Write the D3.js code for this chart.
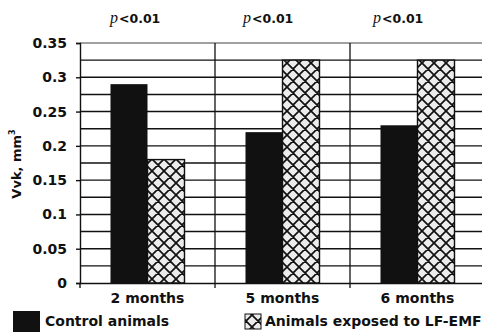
<!DOCTYPE html>
<html>
<head>
<meta charset="utf-8">
<script src="https://cdn.jsdelivr.net/npm/d3@7"></script>
<style>
  html, body { margin: 0; padding: 0; background: #fff; }
  svg { display: block; }
  text { font-family: "DejaVu Sans", sans-serif; font-weight: bold; fill: #111; }
</style>
</head>
<body>
<svg id="chart" width="482" height="332"></svg>
<script>
const categories = ["2 months", "5 months", "6 months"];
const controlValues = [0.29, 0.22, 0.23];
const exposedValues = [0.18, 0.325, 0.325];
const pLabels = ["<0.01", "<0.01", "<0.01"];
const yTickValues = [0, 0.05, 0.1, 0.15, 0.2, 0.25, 0.3, 0.35];
const yTickLabels = ["0", "0.05", "0.1", "0.15", "0.2", "0.25", "0.3", "0.35"];
const gridValues = [0.025, 0.05, 0.075, 0.1, 0.125, 0.15, 0.175, 0.2, 0.225, 0.25, 0.275, 0.3, 0.325];
const seriesNames = ["Control animals", "Animals exposed to LF-EMF"];
const seriesKeys = ["control", "exposed"];

const svg = d3.select("#chart");
const mLeft = 80, mRight = 485, mTop = 43, mBottom = 283;

const x = d3.scaleBand().domain(categories).range([mLeft, mRight]).padding(0);
const xi = d3.scaleBand().domain(seriesKeys).range([0, x.bandwidth()])
  .paddingInner(0).paddingOuter(0.824);
const y = d3.scaleLinear().domain([0, 0.35]).range([mBottom, mTop]);

// hatch pattern
const defs = svg.append("defs");
const pat = defs.append("pattern").attr("id", "hatch").attr("patternUnits", "userSpaceOnUse")
  .attr("width", 12).attr("height", 12).attr("x", 0).attr("y", 3);
pat.append("rect").attr("width", 12).attr("height", 12).attr("fill", "#ececec");
pat.append("path").attr("d", "M-3,-3 L15,15 M-3,9 L3,15 M9,-3 L15,3 M15,-3 L-3,15 M3,-3 L-3,3 M15,9 L9,15")
  .attr("stroke", "#111").attr("stroke-width", 1.7);

// horizontal grid lines
svg.append("g").selectAll("line").data(gridValues).join("line")
  .attr("x1", mLeft).attr("x2", mRight)
  .attr("y1", d => y(d)).attr("y2", d => y(d))
  .attr("stroke", "#111").attr("stroke-width", 1.4);
// top border
svg.append("line").attr("x1", mLeft).attr("x2", mRight).attr("y1", y(0.35)).attr("y2", y(0.35))
  .attr("stroke", "#444").attr("stroke-width", 1.2);

// vertical category separators
svg.append("g").selectAll("line").data(categories.slice(1)).join("line")
  .attr("x1", d => x(d)).attr("x2", d => x(d))
  .attr("y1", mTop).attr("y2", mBottom + 5)
  .attr("stroke", "#111").attr("stroke-width", 1.3);

// y axis
const yAxis = d3.axisLeft(y).tickValues(yTickValues).tickSize(4).tickPadding(9)
  .tickFormat((d, i) => yTickLabels[i]);
const ya = svg.append("g").attr("transform", `translate(${mLeft},0)`).call(yAxis);
ya.select(".domain").attr("stroke", "#111").attr("stroke-width", 1.4);
ya.selectAll(".tick line").attr("stroke", "#111").attr("stroke-width", 1.4);
ya.selectAll(".tick text").attr("font-size", 14).attr("font-family", "DejaVu Sans")
  .attr("font-weight", "bold").attr("fill", "#111");

// bars
const groups = svg.append("g").selectAll("g").data(categories).join("g")
  .attr("transform", d => `translate(${x(d)},0)`);
groups.append("rect")
  .attr("x", xi("control")).attr("width", xi.bandwidth())
  .attr("y", (d, i) => y(controlValues[i]))
  .attr("height", (d, i) => y(0) - y(controlValues[i]))
  .attr("fill", "#111");
groups.append("rect")
  .attr("x", xi("exposed")).attr("width", xi.bandwidth())
  .attr("y", (d, i) => y(exposedValues[i]))
  .attr("height", (d, i) => y(0) - y(exposedValues[i]))
  .attr("fill", "url(#hatch)").attr("stroke", "#111").attr("stroke-width", 1.4);

// x axis
const xAxis = d3.axisBottom(x).tickSize(0).tickPadding(10);
const xa = svg.append("g").attr("transform", `translate(0,${mBottom})`).call(xAxis);
xa.select(".domain").attr("stroke", "#111").attr("stroke-width", 1.5);
xa.selectAll(".tick text").attr("font-size", 14).attr("font-family", "DejaVu Sans")
  .attr("font-weight", "bold").attr("fill", "#111").attr("dy", "0.7em");
svg.append("line").attr("x1", mLeft).attr("x2", mLeft).attr("y1", mBottom).attr("y2", mBottom + 5)
  .attr("stroke", "#111").attr("stroke-width", 1.4);

// p labels
const pl = svg.append("g").selectAll("text").data(categories).join("text")
  .attr("x", (d, i) => x(d) + [30, 28, 23][i])
  .attr("y", 23);
pl.append("tspan").text("p").attr("font-family", "Liberation Serif, serif")
  .attr("font-style", "italic").attr("font-weight", "normal").attr("font-size", 16);
pl.append("tspan").text((d, i) => pLabels[i]).attr("font-size", 12.5).attr("dx", 1);

// y label
const yl = svg.append("text").attr("transform", "translate(21,164) rotate(-90)")
  .attr("text-anchor", "middle").attr("font-size", 13);
yl.append("tspan").text("Vvk, mm");
yl.append("tspan").text("3").attr("font-size", 8).attr("dy", -6);

// legend
svg.append("rect").attr("x", 13).attr("y", 311).attr("width", 27).attr("height", 24).attr("fill", "#111");
svg.append("text").attr("x", 45).attr("y", 326).attr("font-size", 14).text(seriesNames[0]);
svg.append("rect").attr("x", 245).attr("y", 314).attr("width", 16).attr("height", 15)
  .attr("fill", "url(#hatch)").attr("stroke", "#111").attr("stroke-width", 1);
svg.append("text").attr("x", 265).attr("y", 326).attr("font-size", 14).text(seriesNames[1]);
</script>
</body>
</html>
